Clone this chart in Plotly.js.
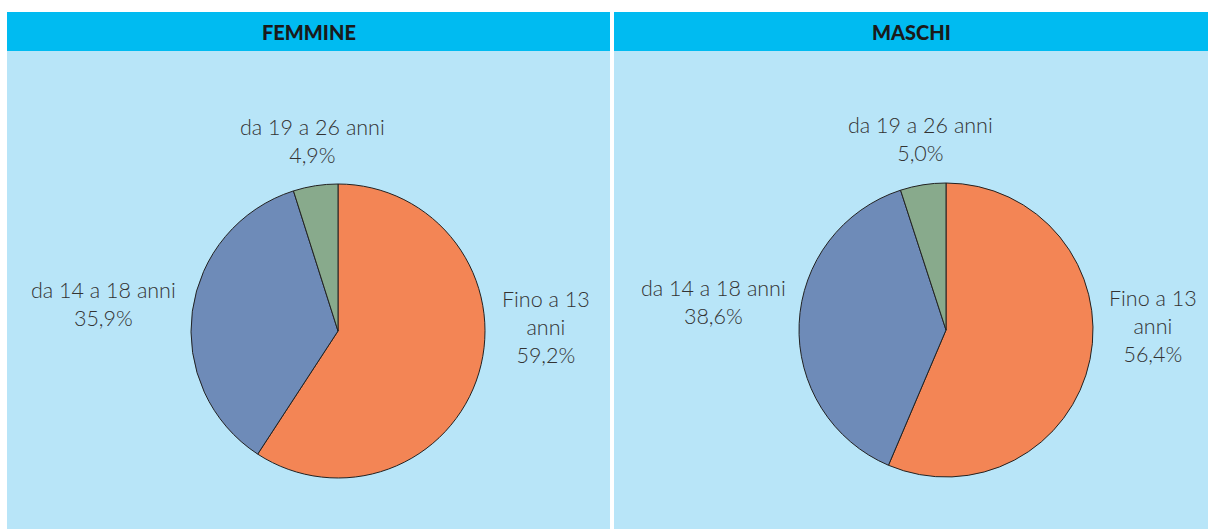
<!DOCTYPE html>
<html>
<head>
<meta charset="utf-8">
<script src="https://cdn.plot.ly/plotly-3.0.1.min.js"></script>
<style>html,body{margin:0;padding:0;background:#fff;}#chart{width:1208px;height:529px;}</style>
</head>
<body>
<div id="chart"></div>
<script>
const panelTitles = ["FEMMINE", "MASCHI"];
const categories = ["Fino a 13<br>anni", "da 14 a 18 anni", "da 19 a 26 anni"];
const femmineValues = [59.2, 35.9, 4.9];
const maschiValues = [56.4, 38.6, 5.0];
const sliceColors = ["#f38555", "#6e8bb8", "#88aa8c"];

const W = 1208, H = 529;
const px = x => x / W;
const py = y => 1 - y / H;
const fmt = v => v.toFixed(1).replace('.', ',') + '%';

const panels = [
  {title: panelTitles[0], values: femmineValues, x0: 7, x1: 610,
   dom: {x: [px(191), px(485)], y: [py(478), py(184)]},
   labelPos: [[546, 327], [103, 304], [312, 141]]},
  {title: panelTitles[1], values: maschiValues, x0: 614, x1: 1208,
   dom: {x: [px(799), px(1093)], y: [py(477), py(183)]},
   labelPos: [[1153, 326], [713, 302], [920, 139]]}
];

const traces = [];
const shapes = [];
const annotations = [];
panels.forEach(p => {
  traces.push({
    type: 'pie', values: p.values, labels: categories,
    marker: {colors: sliceColors, line: {color: '#222', width: 1}},
    sort: false, direction: 'clockwise', rotation: 0,
    textinfo: 'none', hoverinfo: 'skip', showlegend: false,
    domain: p.dom
  });
  shapes.push({type: 'rect', xref: 'paper', yref: 'paper', x0: px(p.x0), x1: px(p.x1), y0: py(529), y1: py(51), fillcolor: '#b8e5f8', line: {width: 0}, layer: 'below'});
  shapes.push({type: 'rect', xref: 'paper', yref: 'paper', x0: px(p.x0), x1: px(p.x1), y0: py(51), y1: py(12), fillcolor: '#00bbf1', line: {width: 0}, layer: 'below'});
  annotations.push({xref: 'paper', yref: 'paper', x: px((p.x0 + p.x1) / 2), y: py(32), text: p.title, showarrow: false, xanchor: 'center', yanchor: 'middle', font: {family: 'Lato, "Open Sans", sans-serif', size: 20, weight: 900, color: '#1a1a1a'}});
  categories.forEach((c, i) => {
    annotations.push({xref: 'paper', yref: 'paper', x: px(p.labelPos[i][0]), y: py(p.labelPos[i][1]), text: c + '<br>' + fmt(p.values[i]), showarrow: false, xanchor: 'center', yanchor: 'middle', align: 'center', font: {family: 'Lato, sans-serif', size: 21.5, weight: 300, color: '#333333'}});
  });
});

Plotly.newPlot('chart', traces, {
  width: W, height: H, margin: {l: 0, r: 0, t: 0, b: 0},
  paper_bgcolor: '#ffffff', plot_bgcolor: 'rgba(0,0,0,0)',
  shapes: shapes, annotations: annotations, hovermode: false
}, {displayModeBar: false, staticPlot: true});
</script>
</body>
</html>
